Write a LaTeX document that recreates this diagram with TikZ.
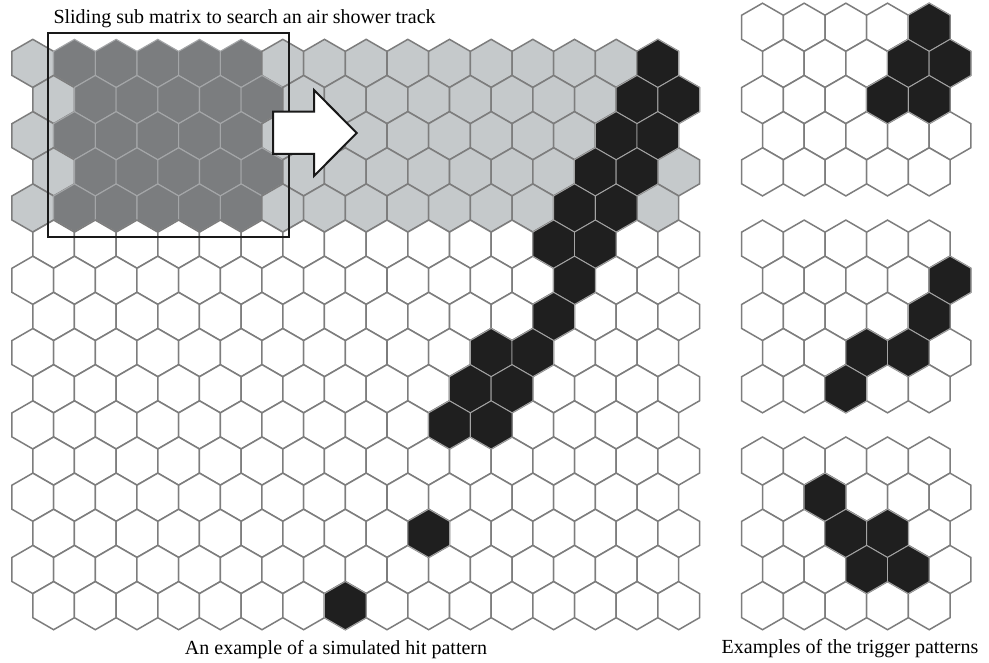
\documentclass[tikz,border=0pt]{standalone}
\usepackage{fontspec}
\setmainfont{Liberation Serif}
\definecolor{hexedge}{HTML}{7D7D7D}
\definecolor{hexdedge}{HTML}{A4A6A8}
\definecolor{hexlight}{HTML}{C5C9CB}
\definecolor{hexdark}{HTML}{7B7D7F}
\definecolor{hexblack}{HTML}{1F1F1F}
\newcommand\hexcell[3]{%
  \draw[#3] (#1,#2-24.06) -- ++(20.83,12.03) -- ++(0,24.06) -- ++(-20.83,12.03)
    -- ++(-20.83,-12.03) -- ++(0,-24.06) -- cycle;}
\begin{document}
\begin{tikzpicture}[x=1pt,y=-1pt,
  hexw/.style={draw=hexedge,line width=1.5pt,fill=white,line join=miter},
  hexl/.style={draw=hexedge,line width=1.5pt,fill=hexlight,line join=miter},
  hexd/.style={draw=hexdedge,line width=1.1pt,fill=hexdark,line join=miter},
  hexb/.style={draw=hexedge!70,line width=0.9pt,fill=hexblack,line join=miter},
  subbox/.style={draw=black!90,line width=2pt},
  blockarrow/.style={draw=black!90,line width=2pt,fill=white,line join=miter},
  caption/.style={font=\fontsize{20}{24}\selectfont,inner sep=0pt}]
\useasboundingbox (0,0) rectangle (989,663);
\fill[white] (0,0) rectangle (989,663);
% main grid
\foreach \r in {0,...,15}{
  \foreach \c in {0,...,15}{
    \pgfmathsetmacro\hx{32.8+41.67*\c+20.83*mod(\r,2)}
    \pgfmathsetmacro\hy{63.4+36.15*\r}
    \def\st{hexw}
    \ifnum\r<5 \def\st{hexl}\ifnum\c>0 \ifnum\c<6 \def\st{hexd}\fi\fi\fi
    \hexcell{\hx}{\hy}{\st}
  }
}
\foreach \r/\c in {0/15,1/14,1/15,2/14,2/15,3/13,3/14,4/13,4/14,5/12,5/13,6/13,7/12,
                   8/11,8/12,9/10,9/11,10/10,10/11,13/9,15/7}{
  \pgfmathsetmacro\hx{32.8+41.67*\c+20.83*mod(\r,2)}
  \pgfmathsetmacro\hy{63.4+36.15*\r}
  \hexcell{\hx}{\hy}{hexb}
}
% trigger pattern panels
\foreach \yo in {27.25,244.15,461.05}{
  \foreach \r in {0,...,4}{
    \foreach \c in {0,...,4}{
      \pgfmathsetmacro\hx{762.5+41.67*\c+20.83*mod(\r,2)}
      \pgfmathsetmacro\hy{\yo+36.15*\r}
      \hexcell{\hx}{\hy}{hexw}
    }
  }
}
\foreach \yo/\r/\c in {27.25/0/4,27.25/1/3,27.25/1/4,27.25/2/3,27.25/2/4,
    244.15/1/4,244.15/2/4,244.15/3/2,244.15/3/3,244.15/4/2,
    461.05/1/1,461.05/2/2,461.05/2/3,461.05/3/2,461.05/3/3}{
  \pgfmathsetmacro\hx{762.5+41.67*\c+20.83*mod(\r,2)}
  \pgfmathsetmacro\hy{\yo+36.15*\r}
  \hexcell{\hx}{\hy}{hexb}
}
% sliding sub matrix and arrow
\draw[subbox] (47.7,33) rectangle (289,237);
\draw[blockarrow] (273,111.7) -- (314,111.7) -- (314,90) -- (356.7,133)
  -- (314,176) -- (314,154) -- (273,154) -- cycle;
% texts
\node[caption,anchor=base west] (title) at (53.3,24) {Sliding sub matrix to search an air shower track};
\node[caption,anchor=base] (capmain) at (336,654.7) {An example of a simulated hit pattern};
\node[caption,anchor=base] (captrig) at (850,653.7) {Examples of the trigger patterns};
\end{tikzpicture}
\end{document}
